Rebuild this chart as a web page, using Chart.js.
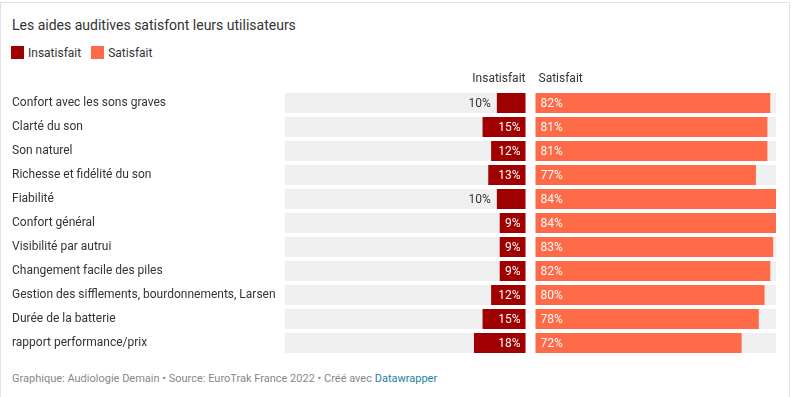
<!DOCTYPE html>
<html>
<head>
<meta charset="utf-8">
<script src="https://cdn.jsdelivr.net/npm/chart.js@4"></script>
<style>
  body { margin: 0; background: #fff; font-family: Roboto, sans-serif; color: #333; }
  .frame { position: absolute; left: 0; top: 2px; width: 790px; height: 400px;
           border: 1px solid #e2e2e2; border-bottom: none; box-sizing: border-box; }
  .title { position: absolute; left: 12px; top: 17px; font-size: 14px; color: #333; }
  .legend { position: absolute; left: 11px; top: 46px; font-size: 12px; }
  .legend span.box { display: inline-block; width: 13px; height: 13px; vertical-align: -2px; margin-right: 4px; }
  .legend span.item { margin-right: 7px; }
  .footer { position: absolute; left: 12px; top: 372px; font-size: 11px; color: #888; }
  .footer a { color: #1d81a2; text-decoration: none; }
  #wrap { position: absolute; left: 12px; top: 69px; width: 764px; height: 286px; }
</style>
</head>
<body>
<div class="frame"></div>
<div class="title">Les aides auditives satisfont leurs utilisateurs</div>
<div class="legend">
  <span class="item"><span class="box" style="background:#a10000"></span>Insatisfait</span>
  <span class="item"><span class="box" style="background:#ff6a48"></span>Satisfait</span>
</div>
<div id="wrap"><canvas id="chart"></canvas></div>
<div class="footer">Graphique: Audiologie Demain • Source: EuroTrak France 2022 • Créé avec <a>Datawrapper</a></div>
<script>
const categories = [
  'Confort avec les sons graves',
  'Clarté du son',
  'Son naturel',
  'Richesse et fidélité du son',
  'Fiabilité',
  'Confort général',
  'Visibilité par autrui',
  'Changement facile des piles',
  'Gestion des sifflements, bourdonnements, Larsen',
  'Durée de la batterie',
  'rapport performance/prix'
];
const insatisfait = [10, 15, 12, 13, 10, 9, 9, 9, 12, 15, 18];
const satisfait = [82, 81, 81, 77, 84, 84, 83, 82, 80, 78, 72];

const darkRed = '#a10000';
const orange = '#ff6a48';
const G = 1.75; // half of the gap between the two panels, in % units
const full = Math.max(...satisfait, ...insatisfait);

const labelPlugin = {
  id: 'labels',
  afterDatasetsDraw(chart) {
    const ctx = chart.ctx;
    const x = chart.scales.x;
    const top = chart.chartArea.top;
    ctx.save();
    ctx.font = '12px Roboto, sans-serif';
    ctx.textBaseline = 'middle';
    // column headers
    ctx.fillStyle = '#333';
    ctx.textAlign = 'right';
    ctx.fillText('Insatisfait', x.getPixelForValue(-G), top - 12);
    ctx.textAlign = 'left';
    ctx.fillText('Satisfait', x.getPixelForValue(G) + 3, top - 12);

    const m0 = chart.getDatasetMeta(0);
    const m1 = chart.getDatasetMeta(1);
    insatisfait.forEach((v, i) => {
      const bar = m0.data[i];
      const txt = v + '%';
      const w = ctx.measureText(txt).width;
      const right = x.getPixelForValue(-G);
      const left = x.getPixelForValue(-G - v);
      ctx.textAlign = 'right';
      if (w + 10 <= right - left) {
        ctx.fillStyle = '#fff';
        ctx.fillText(txt, right - 5, bar.y + 1);
      } else {
        ctx.fillStyle = '#333';
        ctx.fillText(txt, left - 6, bar.y + 1);
      }
    });
    satisfait.forEach((v, i) => {
      const bar = m1.data[i];
      ctx.textAlign = 'left';
      ctx.fillStyle = '#fff';
      ctx.fillText(v + '%', x.getPixelForValue(G) + 5, bar.y + 1);
    });
    ctx.restore();
  }
};

new Chart(document.getElementById('chart'), {
  type: 'bar',
  data: {
    labels: categories,
    datasets: [
      { label: 'Insatisfait', data: insatisfait.map(v => [-G - v, -G]), backgroundColor: darkRed, order: 0 },
      { label: 'Satisfait', data: satisfait.map(v => [G, G + v]), backgroundColor: orange, order: 0 },
      { label: 'bgL', data: categories.map(() => [-G - full, -G]), backgroundColor: '#f0f0f0', order: 1 },
      { label: 'bgR', data: categories.map(() => [G, G + full]), backgroundColor: '#f0f0f0', order: 1 }
    ]
  },
  options: {
    indexAxis: 'y',
    responsive: true,
    maintainAspectRatio: false,
    animation: false,
    layout: { padding: { top: 22, left: 0, right: 0, bottom: 0 } },
    datasets: { bar: { grouped: false, categoryPercentage: 20 / 24, barPercentage: 1, borderWidth: 0 } },
    plugins: { legend: { display: false }, tooltip: { enabled: false } },
    scales: {
      x: { display: false, min: -G - full, max: G + full },
      y: {
        grid: { display: false },
        border: { display: false },
        afterFit(s) { s.width = 273; s.paddingTop = 0; s.paddingBottom = 0; },
        ticks: { crossAlign: 'far', color: '#333', padding: 0, font: { family: 'Roboto', size: 12 } }
      }
    }
  },
  plugins: [labelPlugin]
});
</script>
</body>
</html>
